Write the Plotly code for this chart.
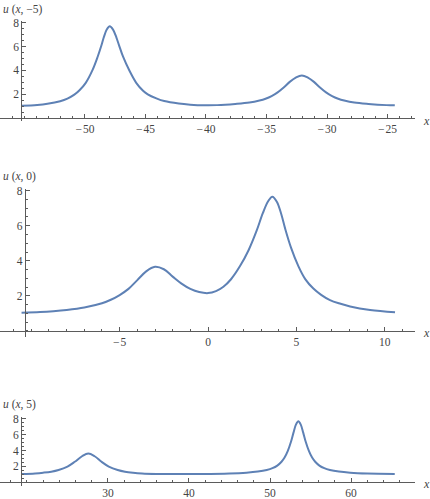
import plotly.graph_objects as go

# u(x, -5)
x_m5 = [-55.25, -53.95, -53.1, -52.05, -51.45, -50.88, -50.45, -49.95, -49.37,
        -48.95, -48.63, -48.45, -48.2, -47.95, -47.68, -47.4, -47.19, -46.85,
        -46.31, -45.75, -45.2, -44.81, -44.1, -43.45, -42.25, -41.3, -40.1,
        -39.08, -37.58, -36.41, -35.58, -35.08, -34.58, -34.08, -33.58, -33.08,
        -32.58, -32.08, -31.58, -31.08, -30.58, -30.08, -29.58, -29.08, -28.58,
        -27.75, -26.58, -25.08, -24.4]
u_m5 = [1.03, 1.10, 1.2, 1.42, 1.64, 1.97, 2.34, 2.94, 4.05,
        5.15, 6.13, 6.76, 7.43, 7.7, 7.43, 6.76, 6.13, 5.15,
        3.95, 2.94, 2.3, 2.0, 1.66, 1.43, 1.22, 1.13, 1.08,
        1.09, 1.19, 1.31, 1.48, 1.63, 1.85, 2.16, 2.57, 3.04,
        3.40, 3.58, 3.40, 3.04, 2.57, 2.16, 1.85, 1.63, 1.48,
        1.31, 1.19, 1.09, 1.07]

# u(x, 0)
x_0 = [-10.55, -9.5, -8.75, -8, -7, -6, -5.5, -5, -4.5, -4, -3.5, -3, -2.5, -2,
       -1.5, -1, -0.5, 0, 0.45, 0.87, 1.3, 1.81, 2.3, 2.75, 3.1, 3.4, 3.64, 3.9,
       4.15, 4.36, 4.7, 5.11, 5.5, 5.96, 6.4, 6.9, 7.5, 8.04, 9.17, 10.58]
u_0 = [1.04, 1.08, 1.13, 1.2, 1.34, 1.58, 1.78, 2.05, 2.4, 2.9, 3.4, 3.66, 3.52, 3.1,
       2.7, 2.4, 2.22, 2.16, 2.27, 2.52, 2.95, 3.7, 4.62, 5.72, 6.72, 7.4, 7.66, 7.36,
       6.64, 5.85, 4.74, 3.7, 2.96, 2.42, 2.06, 1.76, 1.55, 1.4, 1.2, 1.07]

# u(x, 5)
x_5 = [19.35, 21, 22, 23, 23.9, 25, 25.9, 26.8, 27.57, 28.35, 29.2, 30.1, 31.2,
       32.1, 33.1, 34.2, 36, 38.5, 41.5, 45, 47.1, 48.5, 49.6, 50.3, 50.9, 51.42,
       51.8, 52.2, 52.58, 52.9, 53.2, 53.5, 53.8, 54.1, 54.42, 54.8, 55.2, 55.58,
       56.1, 56.7, 57.4, 58.5, 59.9, 62, 65.4]
u_5 = [1.03, 1.11, 1.2, 1.33, 1.54, 1.98, 2.58, 3.28, 3.62, 3.28, 2.58, 1.98, 1.54,
       1.33, 1.2, 1.11, 1.05, 1.03, 1.04, 1.1, 1.2, 1.34, 1.54, 1.77, 2.1, 2.58,
       3.11, 3.95, 5.08, 6.27, 7.28, 7.71, 7.28, 6.27, 5.08, 3.95, 3.11, 2.58,
       2.1, 1.77, 1.54, 1.34, 1.2, 1.1, 1.05]

xticks_m5 = [-50, -45, -40, -35, -30, -25]
xticks_0 = [-5, 0, 5, 10]
xticks_5 = [30, 40, 50, 60]
yticks = [2, 4, 6, 8]

W, H = 430, 499
blue = "#5E81B5"
axcol = "#5b5b5b"
txtcol = "#444444"
font = "Liberation Serif"

def lab(v):
    return ("\u2212\u200a" + str(-v)) if v < 0 else str(v)

# panel layout: x range, y-domain (px top, bottom), y range, x of y-axis, minor x step
panels = [
    dict(x=x_m5, u=u_m5, xr=[-57.02, -22.73], ypx=[17, 118], yr=[-0.207, 8.166],
         yax=-55.25, xt=xticks_m5, mdt=1, title="<i>u</i> (<i>x</i>, \u22125)", ty=-2, xy=118),
    dict(x=x_0, u=u_0, xr=[-11.77, 11.71], ypx=[187, 337], yr=[-0.34, 8.11],
         yax=-10.36, xt=xticks_0, mdt=1, title="<i>u</i> (<i>x</i>, 0)", ty=167, xy=333),
    dict(x=x_5, u=u_5, xr=[16.67, 67.9], ypx=[418, 488], yr=[-0.5, 8.25],
         yax=19.26, xt=xticks_5, mdt=2, title="<i>u</i> (<i>x</i>, 5)", ty=398, xy=486),
]

fig = go.Figure()
xdom = [0, 415 / W]
annotations = []
for i, p in enumerate(panels, start=1):
    sfx = "" if i == 1 else str(i)
    fig.add_trace(go.Scatter(x=p["x"], y=p["u"], mode="lines",
                             line=dict(color=blue, width=2, shape="spline", smoothing=1.0),
                             xaxis="x" + sfx, yaxis="y" + sfx, showlegend=False,
                             hoverinfo="skip"))
    ydom = [1 - p["ypx"][1] / H, 1 - p["ypx"][0] / H]
    xr, yr = p["xr"], p["yr"]
    xpos = ydom[0] + (0 - yr[0]) / (yr[1] - yr[0]) * (ydom[1] - ydom[0])
    ypos = xdom[0] + (p["yax"] - xr[0]) / (xr[1] - xr[0]) * (xdom[1] - xdom[0])
    fig.layout["xaxis" + sfx] = dict(
        domain=xdom, range=xr, anchor="free", position=xpos,
        showline=True, linecolor=axcol, linewidth=1, showgrid=False, zeroline=False,
        ticks="inside", ticklen=4, tickcolor=axcol, tickwidth=1,
        tickvals=p["xt"], ticktext=[lab(v) for v in p["xt"]],
        minor=dict(ticks="inside", ticklen=2, dtick=p["mdt"], tick0=0,
                   tickcolor=axcol, showgrid=False),
        tickfont=dict(family=font, size=11.5, color=txtcol), fixedrange=True)
    fig.layout["yaxis" + sfx] = dict(
        domain=ydom, range=yr, anchor="free", position=ypos,
        showline=True, linecolor=axcol, linewidth=1, showgrid=False, zeroline=False,
        ticks="inside", ticklen=4, tickcolor=axcol, tickwidth=1,
        tickvals=yticks, ticktext=[str(v) for v in yticks],
        minor=dict(ticks="inside", ticklen=2, dtick=0.5, tick0=0,
                   tickcolor=axcol, showgrid=False),
        tickfont=dict(family=font, size=11.5, color=txtcol), fixedrange=True)
    annotations.append(dict(text=p["title"], xref="paper", yref="paper",
                            x=2 / W, y=1 - p["ty"] / H, xanchor="left", yanchor="top",
                            borderpad=0, showarrow=False,
                            font=dict(family=font, size=11.5, color=txtcol)))
    annotations.append(dict(text="<i>x</i>", xref="paper", yref="paper",
                            x=426 / W, y=1 - p["xy"] / H, xanchor="center", yanchor="middle",
                            showarrow=False, font=dict(family=font, size=12, color=txtcol)))

fig.update_layout(width=W, height=H, margin=dict(l=0, r=0, t=0, b=0),
                  paper_bgcolor="white", plot_bgcolor="white",
                  annotations=annotations)
# the page's default body margin would push the figure 8px off; remove it
fig.write_html("out.html", config={"displayModeBar": False},
               post_script="document.body.style.margin='0px';")
